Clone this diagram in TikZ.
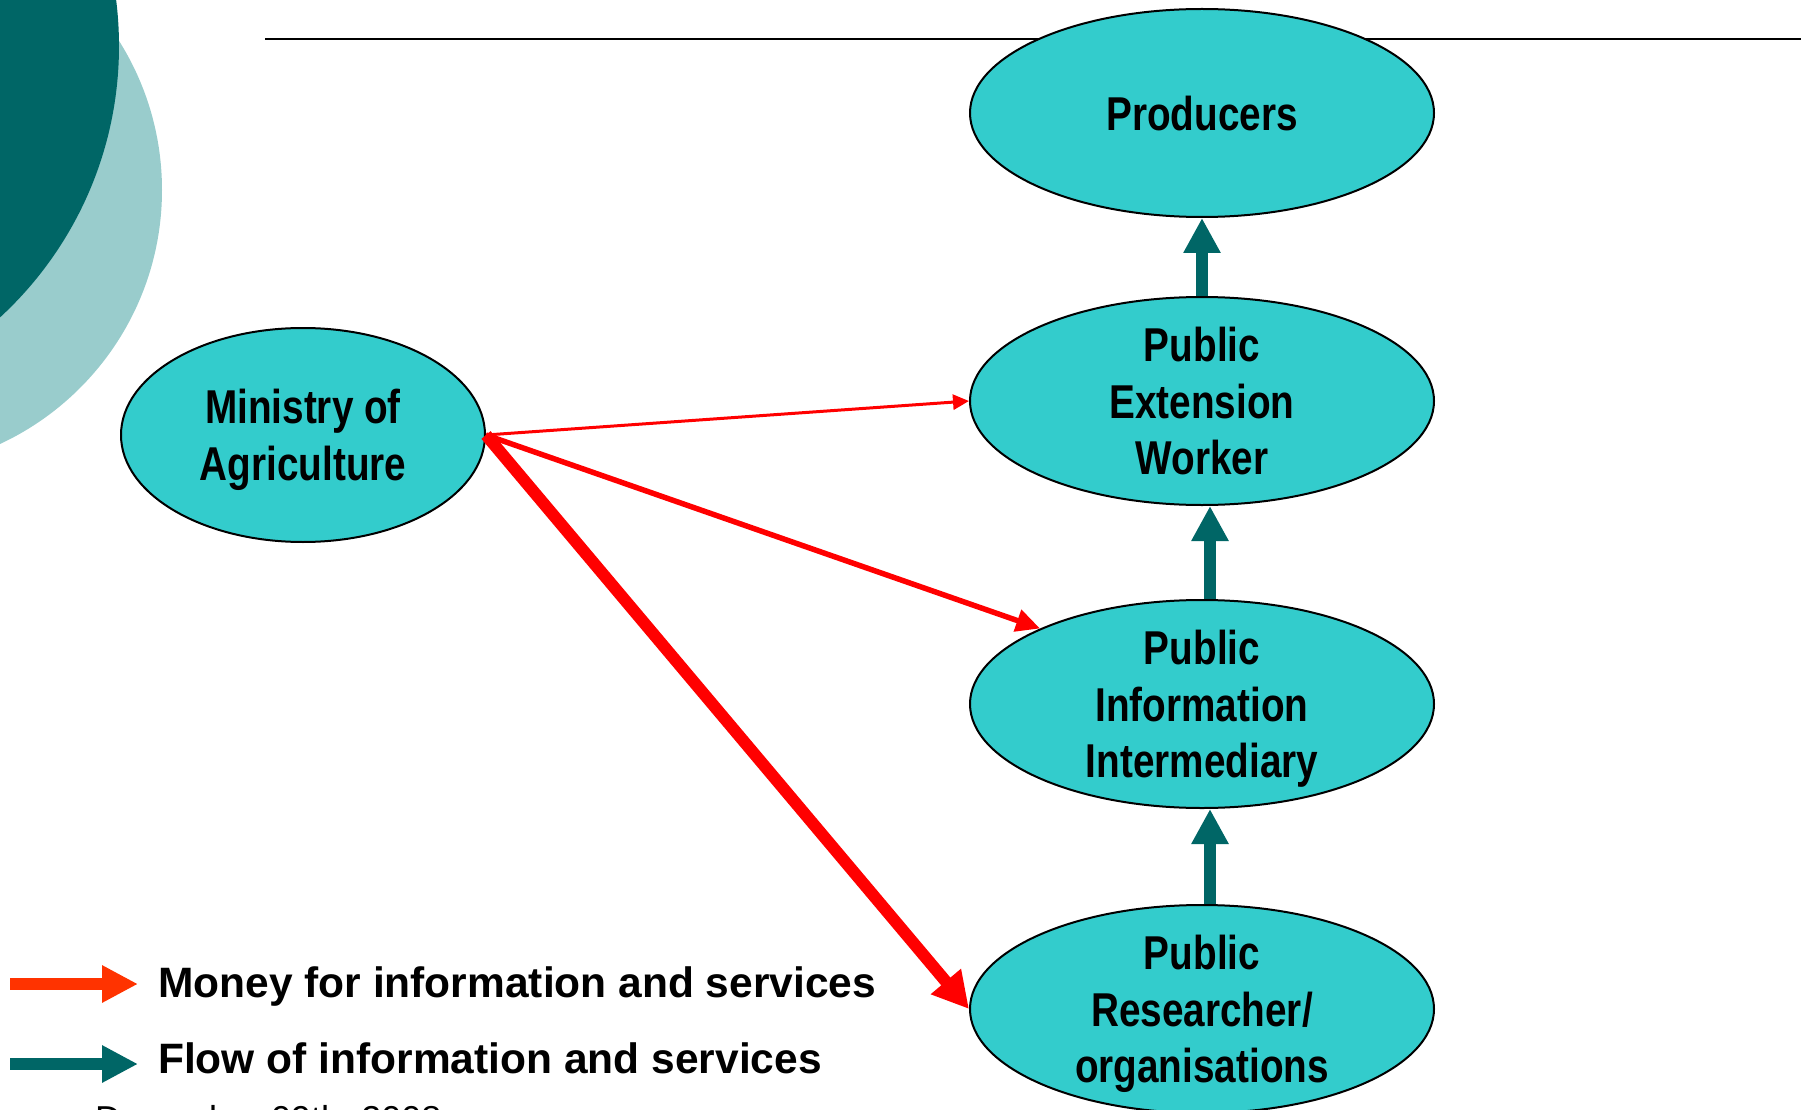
\documentclass[tikz,border=0pt]{standalone}
\usepackage{fontspec}
\setmainfont{Liberation Sans}
\newfontfamily\narrowfont[FakeStretch=0.815]{Liberation Sans}
\usetikzlibrary{shapes.geometric,arrows.meta}
\definecolor{darkteal}{HTML}{006666}
\definecolor{lightteal}{HTML}{99CCCC}
\definecolor{nodefill}{HTML}{33CCCC}
\definecolor{legendred}{HTML}{FF3300}
\begin{document}
\begin{tikzpicture}[x=1pt,y=-1pt,
  actor/.style={ellipse, draw=black, line width=2pt, fill=nodefill,
    minimum width=464pt, minimum height=208pt, inner xsep=0pt, inner ysep=-40pt,
    align=center, text depth=0pt, font=\narrowfont\fontsize{47.5}{56.5}\selectfont\bfseries},
  flow/.style={draw=darkteal, line width=12pt, -{Triangle[length=35pt,width=35pt]}},
  money/.style={draw=red},
  legendtext/.style={anchor=base west, inner sep=0pt, font=\fontsize{42.5}{50}\selectfont\bfseries}
]
\useasboundingbox (0,0) rectangle (1810,1110);
\clip (0,0) rectangle (1810,1110);
% background decoration
\fill[lightteal] (-118,190) circle[radius=280];
\fill[darkteal] (-250,46) circle[radius=369];
\draw[line width=2.5pt] (265,39) -- (1801,39);

% nodes
\node[actor] (prod) at (1202,113) {Producers};
\node[actor] (ext) at (1202,401) {Public\\Extension\\Worker};
\node[actor] (inter) at (1202,704) {Public\\Information\\Intermediary};
\node[actor] (res) at (1202,1009) {Public\\Researcher/\\organisations};
\node[actor, minimum width=364pt, minimum height=214pt] (min) at (303,435) {Ministry of\\Agriculture};

% flow of information
\draw[flow] (ext.north) -- (prod.south);
\draw[flow] ([xshift=8pt]inter.north) -- ([xshift=8pt]ext.south);
\draw[flow] ([xshift=8pt]res.north) -- ([xshift=8pt]inter.south);

% money
\draw[money, line width=3pt, -{Triangle[length=16pt,width=15pt]}] (min.east) -- (ext.west);
\draw[money, line width=5.5pt, -{Triangle[length=24pt,width=22pt]}] (min.east) -- (inter.155.8);
\draw[money, line width=12pt, -{Triangle[length=36pt,width=37pt]}] (min.east) -- (res.west);

% legend
\coordinate (lr1) at (10,984);
\coordinate (lr2) at (138,984);
\coordinate (lt1a) at (10,1064);
\coordinate (lt2a) at (138,1064);
\draw[legendred, line width=12pt, -{Triangle[length=36pt,width=35pt]}] (lr1) -- (lr2);
\draw[darkteal, line width=12pt, -{Triangle[length=36pt,width=35pt]}] (lt1a) -- (lt2a);
\node[legendtext] (money) at (158,997) {Money for information and services};
\node[legendtext] (flowtext) at (158,1073) {Flow of information and services};
\node[anchor=base west, inner sep=0pt, font=\fontsize{36}{40}\selectfont] (date) at (95,1131) {December 09th, 2008};
\end{tikzpicture}
\end{document}
